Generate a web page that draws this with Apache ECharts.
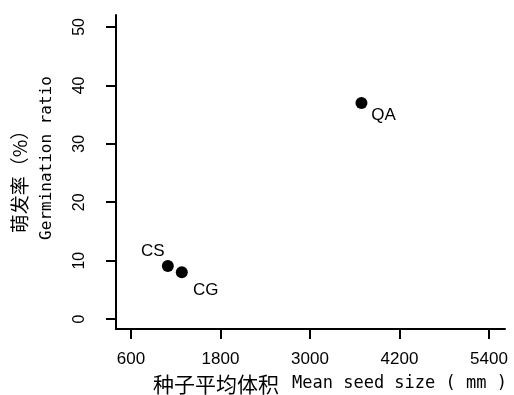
<!DOCTYPE html>
<html>
<head>
<meta charset="utf-8">
<script src="https://cdn.jsdelivr.net/npm/echarts@6/dist/echarts.min.js"></script>
<style>
  html, body { margin: 0; padding: 0; background: #fff; }
  #chart_dom { width: 514px; height: 395px; }
</style>
</head>
<body>
<div id="chart_dom"></div>
<script>
// 种子大小 vs 萌发率
const species = ["CS", "CG", "QA"];
const seedSize = [1095, 1282, 3690];
const germRatio = [9.1, 8.0, 37.0];
const xTicks = [600, 1800, 3000, 4200, 5400];
const yTicks = [0, 10, 20, 30, 40, 50];
// label offset from point (px)
const labelOffset = [[-15, -15], [24, 18], [22, 12]];

const sans = "'Liberation Sans', Arial, sans-serif";
const mono = "'DejaVu Sans Mono', monospace";
const cjk = "'Noto Sans CJK SC', sans-serif";

const chart = echarts.init(document.getElementById("chart_dom"));

const option = {
  animation: false,
  backgroundColor: "#fff",
  grid: { left: 116, right: 9, top: 15, bottom: 66 },
  xAxis: {
    type: "value",
    min: 400,
    max: 5614,
    splitLine: { show: false },
    axisLine: { show: true, onZero: false, lineStyle: { color: "#000", width: 2 } },
    axisTick: { show: true, inside: false, length: 10, lineStyle: { color: "#000", width: 2 }, customValues: xTicks },
    axisLabel: {
      color: "#000", fontSize: 17, fontFamily: sans, margin: 22,
      customValues: xTicks,
      formatter: v => String(v)
    }
  },
  yAxis: {
    type: "value",
    min: -1.7,
    max: 52.05,
    splitLine: { show: false },
    axisLine: { show: true, onZero: false, lineStyle: { color: "#000", width: 2 } },
    axisTick: { show: true, length: 10, lineStyle: { color: "#000", width: 2 }, customValues: yTicks },
    axisLabel: { color: "#000", fontSize: 16, fontFamily: sans, rotate: 90, margin: 28, customValues: yTicks }
  },
  series: [{
    type: "scatter",
    symbol: "circle",
    symbolSize: 12,
    itemStyle: { color: "#000", opacity: 1 },
    data: species.map((name, i) => ({
      name: name,
      value: [seedSize[i], germRatio[i]],
      label: {
        show: true,
        formatter: name,
        position: "inside",
        offset: labelOffset[i],
        color: "#000",
        fontSize: 17,
        fontFamily: sans
      }
    }))
  }],
  graphic: [
    {
      type: "text",
      x: 20, y: 177,
      rotation: Math.PI / 2,
      style: { text: "萌发率（%）", fontSize: 19, fontFamily: cjk, fill: "#000", align: "center", verticalAlign: "middle" }
    },
    {
      type: "text",
      x: 47, y: 158,
      rotation: Math.PI / 2,
      style: { text: "Germination ratio", fontSize: 16, fontFamily: mono, fill: "#000", align: "center", verticalAlign: "middle" }
    },
    {
      type: "text",
      x: 153, y: 384,
      style: {
        text: "{c|种子平均体积}{e|Mean seed size ( mm )}",
        fill: "#000",
        align: "left",
        verticalAlign: "middle",
        rich: {
          c: { fontFamily: cjk, fontSize: 21, fill: "#000" },
          e: { fontFamily: mono, fontSize: 17, fill: "#000", padding: [0, 0, 0, 13] }
        }
      }
    }
  ]
};

chart.setOption(option);
</script>
</body>
</html>
